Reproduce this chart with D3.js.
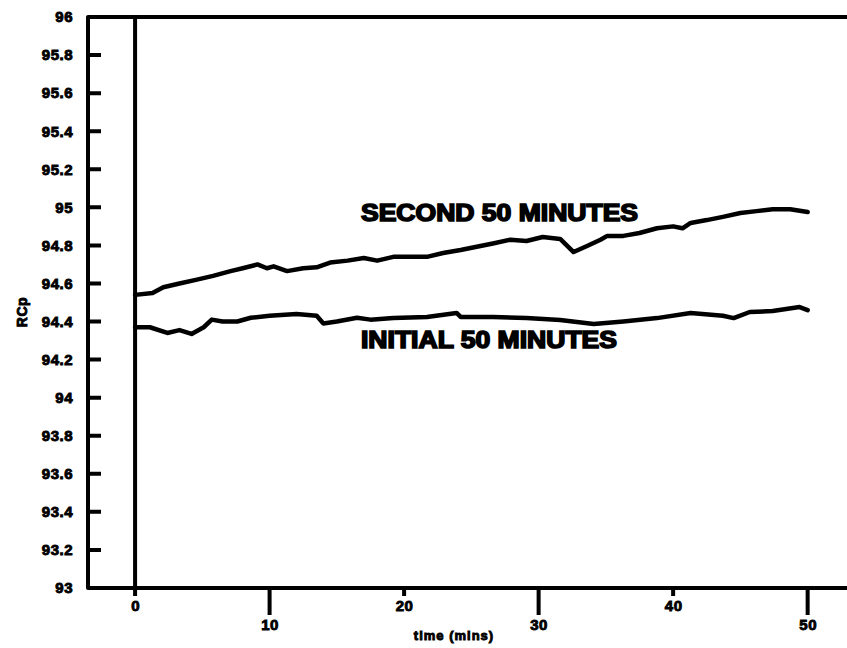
<!DOCTYPE html>
<html>
<head>
<meta charset="utf-8">
<script src="https://cdn.jsdelivr.net/npm/d3@7"></script>
<style>
  body { margin: 0; background: #fff; }
  svg { display: block; }
  text { font-family: "Liberation Sans", Arial, sans-serif; font-weight: bold; fill: #000; stroke: #000; }
</style>
</head>
<body>
<svg id="chart" width="847" height="648"></svg>
<script>
// readings taken off the plot (time in minutes, RCp)
const secondT = [0, 1.3, 2.1, 3.3, 4.6, 5.8, 7.1, 8.0, 9.1, 9.8, 10.3, 11.3, 12.5, 13.5, 14.5, 15.8, 17.0, 18.0, 19.2, 21.7, 22.9, 24.2, 26.6, 27.9, 29.1, 30.3, 31.6, 32.6, 33.6, 34.6, 35.1, 36.3, 37.5, 38.8, 40.0, 40.7, 41.3, 42.5, 43.7, 45.0, 46.2, 47.4, 48.7, 50.0];
const secondV = [94.54, 94.55, 94.58, 94.60, 94.62, 94.64, 94.665, 94.68, 94.70, 94.68, 94.69, 94.665, 94.68, 94.685, 94.71, 94.72, 94.734, 94.72, 94.74, 94.74, 94.76, 94.776, 94.81, 94.83, 94.823, 94.844, 94.834, 94.765, 94.797, 94.83, 94.85, 94.85, 94.865, 94.89, 94.90, 94.89, 94.918, 94.933, 94.95, 94.97, 94.98, 94.99, 94.99, 94.975];

const initialT = [0, 1.1, 2.4, 3.3, 4.2, 5.1, 5.7, 6.5, 7.6, 8.6, 10.0, 12.0, 13.5, 14.0, 15.0, 16.5, 17.5, 19.2, 21.7, 23.9, 24.2, 26.6, 29.1, 31.6, 34.1, 36.3, 38.8, 41.3, 43.7, 44.5, 45.7, 47.4, 49.4, 50.0];
const initialV = [94.37, 94.37, 94.34, 94.355, 94.335, 94.37, 94.41, 94.40, 94.40, 94.42, 94.43, 94.44, 94.43, 94.39, 94.40, 94.42, 94.41, 94.418, 94.424, 94.445, 94.424, 94.424, 94.418, 94.408, 94.387, 94.40, 94.418, 94.445, 94.43, 94.418, 94.45, 94.455, 94.476, 94.46];

const yTicks = [93, 93.2, 93.4, 93.6, 93.8, 94, 94.2, 94.4, 94.6, 94.8, 95, 95.2, 95.4, 95.6, 95.8, 96];
const xTicksShort = [0, 20, 40];
const xTicksLong = [10, 30, 50];

const svg = d3.select("#chart");
const mLeft = 88, mTop = 17, mBottom = 588, mRight = 848;

const x = d3.scaleLinear().domain([-3.5, 53]).range([mLeft, mRight]);
const y = d3.scaleLinear().domain([93, 96]).range([mBottom, mTop]);

// y axis labels
const yAxis = svg.append("g")
  .attr("transform", `translate(${mLeft},0)`)
  .call(d3.axisLeft(y).tickValues(yTicks).tickSizeInner(0).tickSizeOuter(0).tickPadding(15)
    .tickFormat(d => String(+d.toFixed(1))));
yAxis.select(".domain").remove();
yAxis.selectAll("text").style("font-size", "15px").attr("stroke-width", 0.9).attr("letter-spacing", "0.5px");

// x axis labels, staggered
function xAxisPart(vals, len) {
  const g = svg.append("g")
    .attr("transform", `translate(0,${mBottom})`)
    .call(d3.axisBottom(x).tickValues(vals).tickSizeInner(len).tickSizeOuter(0).tickPadding(4));
  g.select(".domain").remove();
  g.selectAll("text").style("font-size", "15px").attr("stroke-width", 0.9).attr("letter-spacing", "0.5px");
}
xAxisPart(xTicksShort, 8);
xAxisPart(xTicksLong, 27);

// series
const line = d3.line().x(d => x(d[0])).y(d => y(d[1]));
[[secondT, secondV], [initialT, initialV]].forEach(([t, v]) => {
  svg.append("path")
    .datum(t.map((d, i) => [d, v[i]]))
    .attr("d", line)
    .attr("fill", "none")
    .attr("stroke", "#000")
    .attr("stroke-width", 4.5)
    .attr("stroke-linejoin", "round")
    .attr("stroke-linecap", "round");
});

// annotations
svg.append("text").attr("x", 361).attr("y", 221)
  .attr("textLength", 277).attr("lengthAdjust", "spacingAndGlyphs")
  .attr("stroke-width", 1.6)
  .style("font-size", "23px").text("SECOND 50 MINUTES");
svg.append("text").attr("x", 361).attr("y", 348)
  .attr("textLength", 256).attr("lengthAdjust", "spacingAndGlyphs")
  .attr("stroke-width", 1.6)
  .style("font-size", "23px").text("INITIAL 50 MINUTES");

// axis titles
svg.append("text").attr("x", 454).attr("y", 640).attr("text-anchor", "middle")
  .attr("stroke-width", 0.9)
  .style("font-size", "13px").attr("letter-spacing", "1px").text("time (mins)");
svg.append("text").attr("transform", "translate(27,312) rotate(-90)").attr("text-anchor", "middle")
  .attr("stroke-width", 0.9)
  .style("font-size", "14px").attr("letter-spacing", "0.5px").text("RCp");

// frame, zero line and tick marks, drawn last
let d = `M${mRight},${mTop}H${mLeft}V${mBottom}H${mRight}`;
d += `M${x(0)},${mTop}V${mBottom}`;
yTicks.slice(1, -1).forEach(v => { d += `M${mLeft},${y(v)}h13`; });
xTicksShort.forEach(v => { d += `M${x(v)},${mBottom}v8`; });
xTicksLong.forEach(v => { d += `M${x(v)},${mBottom}v27`; });
svg.append("path").attr("d", d)
  .attr("fill", "none").attr("stroke", "#000").attr("stroke-width", 4)
  .attr("stroke-linejoin", "round");
</script>
</body>
</html>
